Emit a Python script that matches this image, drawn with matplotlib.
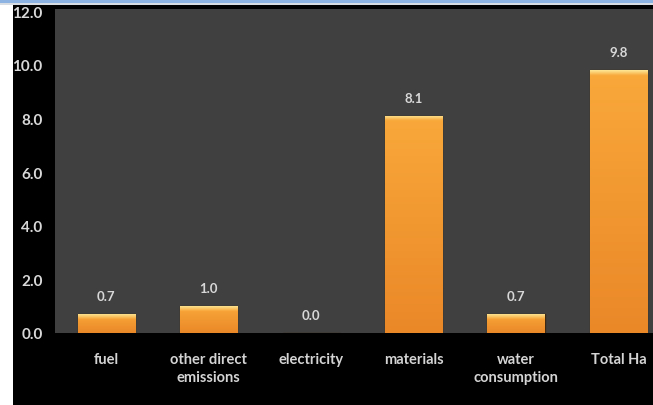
import numpy as np
import matplotlib.pyplot as plt
from matplotlib.patches import Rectangle
from matplotlib.colors import to_rgb

categories = ["fuel", "other direct\nemissions", "electricity", "materials",
              "water\nconsumption", "Total Ha"]
values = [0.7, 1.0, 0.0, 8.1, 0.7, 9.8]
yticks = [0, 2, 4, 6, 8, 10, 12]

plt.rcParams['font.family'] = ['Lato', 'DejaVu Sans']
plt.rcParams['savefig.bbox'] = 'standard'

fig = plt.figure(figsize=(6.53, 4.06), dpi=100)
fig.patch.set_facecolor('black')

# white margin on the left, blue band along the top edge
fig.patches.append(Rectangle((0, 0), 13 / 653, 1, transform=fig.transFigure,
                             facecolor='white', edgecolor='none', zorder=-1))
fig.patches.append(Rectangle((0, 1 - 4 / 406), 1, 4 / 406, transform=fig.transFigure,
                             facecolor='#8db3e2', edgecolor='none', zorder=-1))
fig.patches.append(Rectangle((0, 1 - 6 / 406), 1, 2 / 406, transform=fig.transFigure,
                             facecolor='#d8dde4', edgecolor='none', zorder=-1))

ax = fig.add_axes([55 / 653, 72 / 406, 598 / 653, 324 / 406])
ax.set_facecolor('#404040')

x = np.arange(len(categories))
bars = ax.bar(x, values, width=0.56, color='#f39a30', edgecolor='#3e2812',
              linewidth=1.0, zorder=2)

# vertical shading inside each bar: pale rim at the top, deeper orange lower down
top_c = np.array(to_rgb('#fde390'))
mid_c = np.array(to_rgb('#f9a83a'))
bot_c = np.array(to_rgb('#ea8828'))
for b, v in zip(bars, values):
    if v > 0:
        ys = np.linspace(0, v, 200)
        rows = []
        for yy in ys:
            d = v - yy
            if d < 0.18:
                t = d / 0.18
                c = top_c * (1 - t) + mid_c * t
            else:
                t = yy / v
                c = bot_c * (1 - t) + mid_c * t
            rows.append(c)
        img = np.array(rows)[::-1][:, None, :]
        im = ax.imshow(img, extent=(b.get_x(), b.get_x() + b.get_width(), 0, v),
                       aspect='auto', zorder=2.5, interpolation='bilinear')
        im.set_clip_path(b)
    ax.annotate(f"{v:.1f}", (b.get_x() + b.get_width() / 2, v),
                textcoords='offset points', xytext=(0, 13), ha='center',
                va='center', fontsize=9.5, color='#d8d8d8', fontweight='bold')

# the plot area runs off the right edge, so the last slot is cut short
ax.set_xlim(-0.5, len(categories) - 0.5 - 17 / 103)
ax.set_ylim(0, 12.08)
ax.set_xticks(x)
ax.set_xticklabels(categories, fontweight='bold', fontsize=10.5, color='#d4d4d4',
                   linespacing=1.35)
ax.set_yticks(yticks)
ax.set_yticklabels([f"{t:.1f}" for t in yticks], fontsize=11, color='#d8d8d8',
                   fontweight='bold')
ax.tick_params(axis='x', length=0, pad=14)
ax.tick_params(axis='y', length=0, pad=9)
for s in ax.spines.values():
    s.set_visible(False)

fig.savefig('out.png', dpi=100, facecolor=fig.get_facecolor())
